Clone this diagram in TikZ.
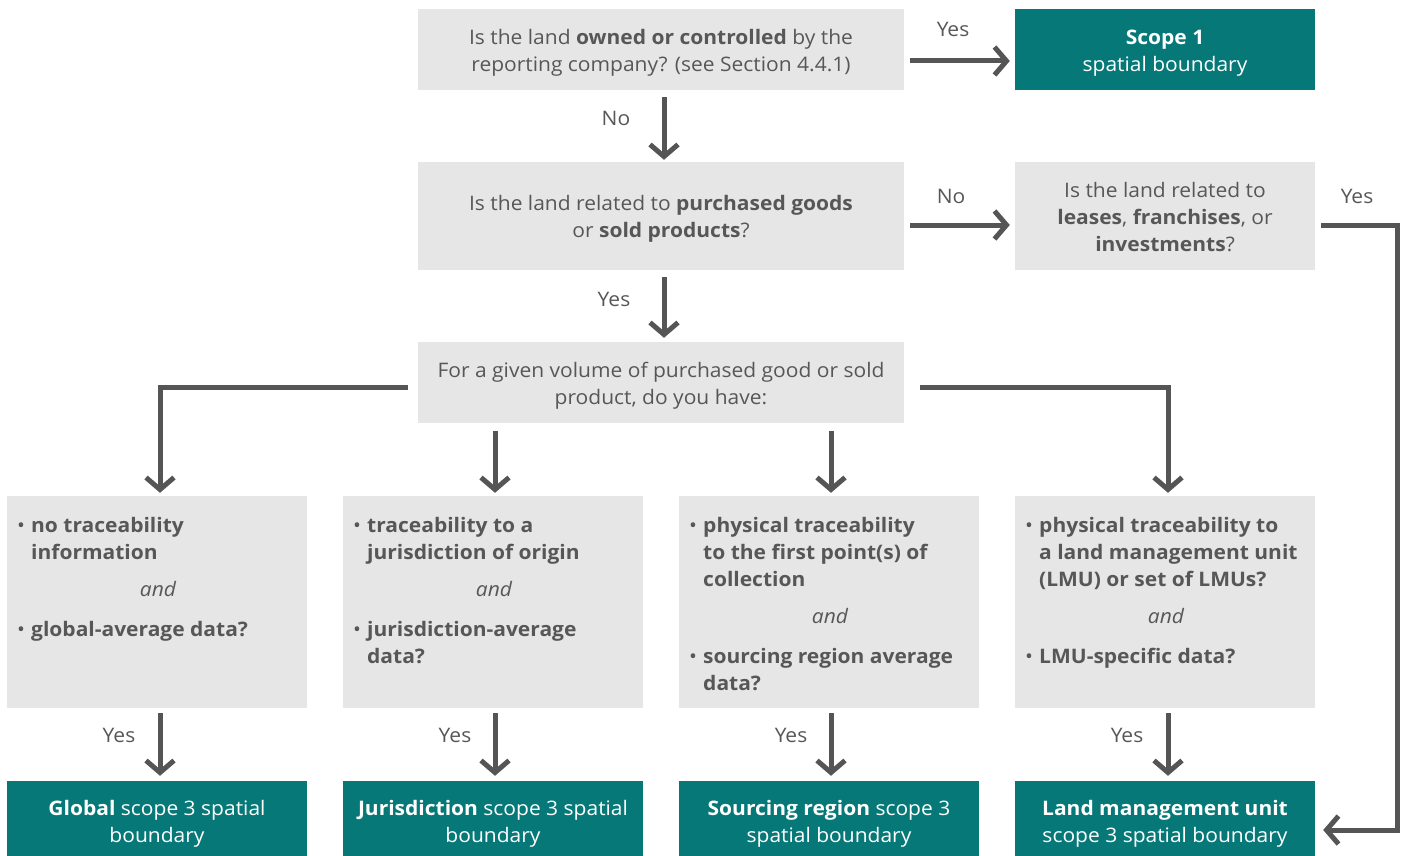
\documentclass[tikz,border=0pt]{standalone}
\usepackage{fontspec}
\setmainfont{Open Sans}[FakeStretch=1.05]
\usetikzlibrary{arrows.meta,calc}
\definecolor{boxgray}{HTML}{E6E6E6}
\definecolor{scopeteal}{HTML}{067878}
\definecolor{ink}{HTML}{575757}
\definecolor{linegray}{HTML}{555555}
\newcommand\fs{\fontsize{20}{27}\selectfont}
\newcommand\bitem[1]{\makebox[14pt][l]{\textbullet}\textbf{#1}}
\newcommand\bcont[1]{\hspace*{14pt}\textbf{#1}}
\begin{document}
\begin{tikzpicture}[x=1pt,y=-1pt,
  % text height/depth fix where the last baseline sits below the box centre
  qbox/.style={fill=boxgray,text=ink,align=center,inner sep=0pt,font=\fs,
    text depth=0pt,text height=44pt},
  result/.style={fill=scopeteal,text=white,align=center,inner sep=0pt,font=\fs,
    minimum width=300pt,minimum height=75pt,text depth=0pt,text height=47pt},
  optbox/.style={fill=boxgray,inner sep=0pt,minimum width=300pt,minimum height=212pt},
  item/.style={text=ink,align=left,inner sep=0pt,font=\fs,anchor=base west},
  conj/.style={text=ink,inner sep=0pt,font=\fs\itshape,anchor=base},
  lab/.style={text=ink,inner sep=0pt,font=\fs,anchor=base},
  flow/.style={draw=linegray,line width=5pt,
    -{Straight Barb[length=12pt,width=28pt]}}]
\useasboundingbox (0,0) rectangle (1403,856);

% decision boxes
\node[qbox,minimum width=486pt,minimum height=81pt,text height=45pt] (q1) at (661,49.5)
  {Is the land \textbf{owned or controlled} by the\\reporting company? (see Section 4.4.1)};
\node[result,minimum height=81pt,text height=44pt] (s1) at (1165,49.5)
  {\textbf{Scope 1}\\spatial boundary};
\node[qbox,minimum width=486pt,minimum height=108pt,text height=43pt] (q2) at (661,216)
  {Is the land related to \textbf{purchased goods}\\or \textbf{sold products}?};
\node[qbox,minimum width=300pt,minimum height=108pt,text height=71pt] (q3) at (1165,216)
  {Is the land related to\\\textbf{leases}, \textbf{franchises}, or\\\textbf{investments}?};
\node[qbox,minimum width=486pt,minimum height=81pt] (q4) at (661,382.5)
  {For a given volume of purchased good or sold\\product, do you have:};

% data availability options
\node[optbox] (c1) at (157,602) {};
\node[optbox] (c2) at (493,602) {};
\node[optbox] (c3) at (829,602) {};
\node[optbox] (c4) at (1165,602) {};

% item nodes are placed by the baseline of their last line
\node[item] (c1a) at (17,559) {\bitem{no traceability}\\\bcont{information}};
\node[conj] (c1and) at (158,596) {and};
\node[item] (c1b) at (17,636) {\bitem{global-average data?}};

\node[item] (c2a) at (353,559) {\bitem{traceability to a}\\\bcont{jurisdiction of origin}};
\node[conj] (c2and) at (494,596) {and};
\node[item] (c2b) at (353,663) {\bitem{jurisdiction-average}\\\bcont{data?}};

\node[item] (c3a) at (689,586) {\bitem{physical traceability}\\\bcont{to the first point(s) of}\\\bcont{collection}};
\node[conj] (c3and) at (830,623) {and};
\node[item] (c3b) at (689,690) {\bitem{sourcing region average}\\\bcont{data?}};

\node[item] (c4a) at (1025,586) {\bitem{physical traceability to}\\\bcont{a land management unit}\\\bcont{(LMU) or set of LMUs?}};
\node[conj] (c4and) at (1166,623) {and};
\node[item] (c4b) at (1025,663) {\bitem{LMU-specific data?}};

% spatial boundary results
\node[result] (r1) at (157,818.5) {\textbf{Global} scope 3 spatial\\boundary};
\node[result] (r2) at (493,818.5) {\textbf{Jurisdiction} scope 3 spatial\\boundary};
\node[result] (r3) at (829,818.5) {\textbf{Sourcing region} scope 3\\spatial boundary};
\node[result] (r4) at (1165,818.5) {\textbf{Land management unit}\\scope 3 spatial boundary};

% connectors
\draw[flow] ([shift={(6,11.5)}]q1.east) -- ([shift={(-5,11.5)}]s1.west);
\draw[flow] ([shift={(3,7)}]q1.south) -- ([shift={(3,-2)}]q2.north);
\draw[flow] ([shift={(6,9)}]q2.east) -- ([shift={(-5,9)}]q3.west);
\draw[flow] ([shift={(6,9)}]q3.east) -- ++(76,0) |- ([shift={(8,11.5)}]r4.east);
\draw[flow] ([shift={(3,7)}]q2.south) -- ([shift={(3,-4)}]q4.north);
\draw[flow] ([shift={(-10,4.5)}]q4.west) -| ([shift={(3,-3)}]c1.north);
\draw[flow] ($(q4.south -| c2.north)+(2,8)$) -- ([shift={(2,-3)}]c2.north);
\draw[flow] ($(q4.south -| c3.north)+(2,8)$) -- ([shift={(2,-3)}]c3.north);
\draw[flow] ([shift={(16,4.5)}]q4.east) -| ([shift={(3,-3)}]c4.north);
\draw[flow] ([shift={(3,5)}]c1.south) -- ([shift={(3,-5)}]r1.north);
\draw[flow] ([shift={(2,5)}]c2.south) -- ([shift={(2,-5)}]r2.north);
\draw[flow] ([shift={(2,5)}]c3.south) -- ([shift={(2,-5)}]r3.north);
\draw[flow] ([shift={(3,5)}]c4.south) -- ([shift={(3,-5)}]r4.north);

% connector labels
\node[lab] (l1) at (953,37) {Yes};
\node[lab] (l2) at (616,126) {No};
\node[lab] (l3) at (951,203) {No};
\node[lab] (l4) at (1357,203) {Yes};
\node[lab] (l5) at (614,306) {Yes};
\node[lab] (l6) at (119,742) {Yes};
\node[lab] (l7) at (455,742) {Yes};
\node[lab] (l8) at (791,742) {Yes};
\node[lab] (l9) at (1127,742) {Yes};
\end{tikzpicture}
\end{document}
